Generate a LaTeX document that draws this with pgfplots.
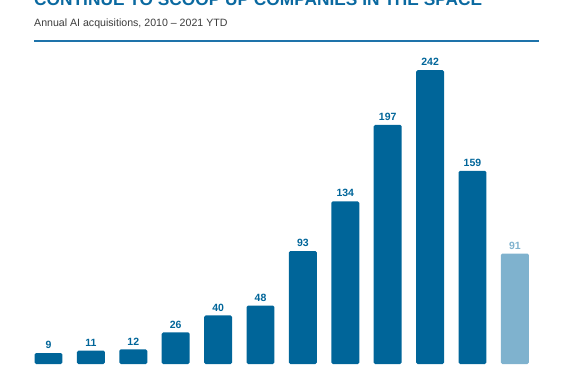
\documentclass[border=0pt]{standalone}
\usepackage{pgfplots}
\pgfplotsset{compat=1.18}
\usepackage{fontspec}
\setmainfont{Liberation Sans}
\definecolor{barblue}{RGB}{0,101,153}
\definecolor{barlight}{RGB}{127,178,206}
\definecolor{rulecol}{RGB}{30,115,170}
\definecolor{titleblue}{RGB}{10,105,160}
\definecolor{subgray}{RGB}{60,60,60}
\begin{document}
\begin{tikzpicture}[x=1pt,y=1pt]
\useasboundingbox (0,0) rectangle (572,364);
\clip (0,0) rectangle (572,364);
\node[anchor=base west,inner sep=0pt,font=\bfseries\fontsize{17.3}{17.3}\selectfont,text=titleblue] at (34,358) {CONTINUE TO SCOOP UP COMPANIES IN THE SPACE};
\node[anchor=base west,inner sep=0pt,font=\fontsize{10.6}{10.6}\selectfont,text=subgray] at (34,337) {Annual AI acquisitions, 2010 -- 2021 YTD};
\draw[rulecol,line width=2pt] (34,323) -- (539,323);
\begin{axis}[
  at={(0,0)}, anchor=south west,
  width=572pt, height=364pt, scale only axis,
  axis lines=none, ticks=none,
  xmin=-1.144, xmax=12.347, ymin=0, ymax=299.8,
  clip=false,
  /pgf/number format/assume math mode=true,
  ybar, bar width=0.66, bar shift=0pt,
  nodes near coords,
  every node near coord/.append style={font=\bfseries\fontsize{10.5}{10.5}\selectfont, inner sep=2pt, yshift=2pt},
]
\addplot[fill=barblue, draw=none, rounded corners=1.5pt, nodes near coords style={text=barblue}] coordinates {
(0,9) (1,11) (2,12) (3,26) (4,40) (5,48) (6,93) (7,134) (8,197) (9,242) (10,159)};
\addplot[fill=barlight, draw=none, rounded corners=1.5pt, nodes near coords style={text=barlight}] coordinates {
(11,91)};
\end{axis}
\end{tikzpicture}
\end{document}
